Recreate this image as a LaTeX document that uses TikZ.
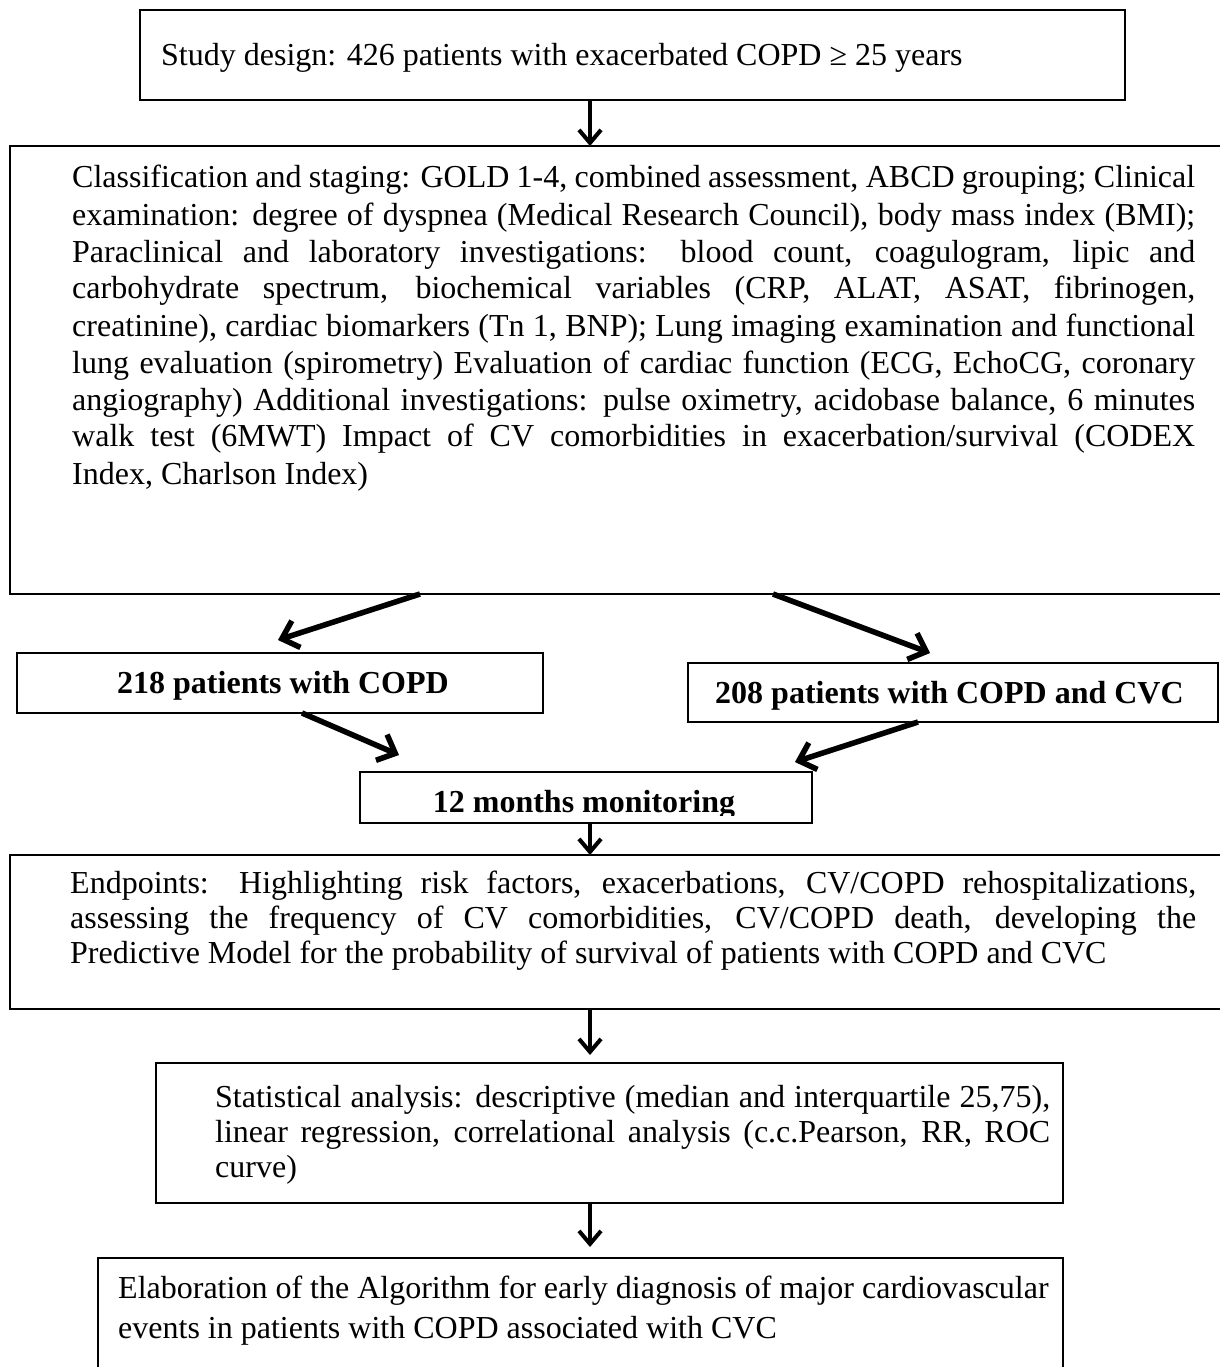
\documentclass[tikz,border=0pt]{standalone}
\usepackage{fontspec}
\setmainfont{Liberation Serif}
\usetikzlibrary{arrows.meta}
\newcommand{\bodyfnt}{\fontsize{32}{40}\selectfont}
\newcommand{\boldfnt}{\fontsize{32}{38}\selectfont\bfseries}
\newcommand{\jlx}[1]{\makebox[\linewidth][s]{#1}\par}
\begin{document}
\begin{tikzpicture}[x=1pt,y=-1pt,
  boxed/.style={draw=black, line width=2pt, inner sep=0pt, outer sep=0pt, anchor=north west},
  txt/.style={inner sep=0pt, anchor=base west},
  arr/.style={line width=4pt, -{Straight Barb[length=13pt,width=22pt]}},
  darr/.style={line width=5.5pt, -{Straight Barb[length=15pt,width=28pt]}},
  shadow/.style={draw=black!30, opacity=0.6, shift={(2pt,-3pt)}}
]
\useasboundingbox[fill=white] (0,0) rectangle (1219,1367);

% boxes
\node[boxed, minimum width=985pt, minimum height=90pt] (b1) at (140,10) {};
\node[boxed, minimum width=1240pt, minimum height=448pt] (b2) at (10,146) {};
\node[boxed, minimum width=526pt, minimum height=60pt] (b3) at (17,653) {};
\node[boxed, minimum width=530pt, minimum height=59pt] (b4) at (688,663) {};
\node[boxed, minimum width=452pt, minimum height=51pt] (b5) at (360,772) {};
\node[boxed, minimum width=1240pt, minimum height=154pt] (b6) at (10,855) {};
\node[boxed, minimum width=907pt, minimum height=140pt] (b7) at (156,1063) {};
\node[boxed, minimum width=965pt, minimum height=140pt] (b8) at (98,1258) {};

% texts
\node[txt] (t1) at (161,66) {\bodyfnt Study design: 426 patients with exacerbated COPD ≥ 25 years};
\node[txt] (t2) at (72,188) {\begin{minipage}[t]{1123pt}\fontsize{32}{37}\selectfont
\jlx{Classification and staging: GOLD 1-4, combined assessment, ABCD grouping; Clinical}
\jlx{examination: degree of dyspnea (Medical Research Council), body mass index (BMI);}
\jlx{Paraclinical and laboratory investigations: blood count, coagulogram, lipic and}
\jlx{carbohydrate spectrum, biochemical variables (CRP, ALAT, ASAT, fibrinogen,}
\jlx{creatinine), cardiac biomarkers (Tn 1, BNP); Lung imaging examination and functional}
\jlx{lung evaluation (spirometry) Evaluation of cardiac function (ECG, EchoCG, coronary}
\jlx{angiography) Additional investigations: pulse oximetry, acidobase balance, 6 minutes}
\jlx{walk test (6MWT) Impact of CV comorbidities in exacerbation/survival (CODEX}
Index, Charlson Index)\end{minipage}};
\node[txt] (t3) at (117,693) {\boldfnt 218 patients with COPD};
\node[txt] (t4) at (715,703) {\boldfnt 208 patients with COPD and CVC};
\begin{scope}
\clip (360,772) rectangle (812,815);
\node[inner sep=0pt, anchor=base] (t5) at (584,812) {\boldfnt 12 months monitoring};
\end{scope}
\node[txt] (t6) at (70,893) {\begin{minipage}[t]{1126pt}\fontsize{32}{35}\selectfont
\jlx{Endpoints: Highlighting risk factors, exacerbations, CV/COPD rehospitalizations,}
\jlx{assessing the frequency of CV comorbidities, CV/COPD death, developing the}
Predictive Model for the probability of survival of patients with COPD and CVC\end{minipage}};
\node[txt] (t7) at (215,1107) {\begin{minipage}[t]{835pt}\fontsize{32}{35}\selectfont
\jlx{Statistical analysis: descriptive (median and interquartile 25,75),}
\jlx{linear regression, correlational analysis (c.c.Pearson, RR, ROC}
curve)\end{minipage}};
\node[txt] (t8) at (118,1298) {\begin{minipage}[t]{950pt}\fontsize{32}{40}\selectfont
Elaboration of the Algorithm for early diagnosis of major cardiovascular\par
events in patients with COPD associated with CVC\end{minipage}};

% arrow anchor coordinates
\coordinate (cx) at (590,0);
\coordinate (s2) at (420,0);
\coordinate (s3) at (773,0);
\coordinate (e2) at (278,640);
\coordinate (e3) at (930,653);
\coordinate (s4) at (302,0);
\coordinate (s5) at (918,0);
\coordinate (e4) at (399,755);
\coordinate (e5) at (795,762);
\coordinate (e7) at (590,1055);
\coordinate (e8) at (590,1247);

% connector shadows
\draw[darr, shadow] (b2.south -| s2) -- (e2);
\draw[darr, shadow] (b2.south -| s3) -- (e3);
\draw[darr, shadow] (b3.south -| s4) -- (e4);
\draw[darr, shadow] (b4.south -| s5) -- (e5);
\draw[arr, shadow] (b1.south -| cx) -- (b2.north -| cx);
\draw[arr, shadow] (b5.south -| cx) -- (b6.north -| cx);

% connectors
\draw[arr] (b1.south -| cx) -- (b2.north -| cx);
\draw[darr] (b2.south -| s2) -- (e2);
\draw[darr] (b2.south -| s3) -- (e3);
\draw[darr] (b3.south -| s4) -- (e4);
\draw[darr] (b4.south -| s5) -- (e5);
\draw[arr] (b5.south -| cx) -- (b6.north -| cx);
\draw[arr] (b6.south -| cx) -- (e7);
\draw[arr] (b7.south -| cx) -- (e8);
\end{tikzpicture}
\end{document}
